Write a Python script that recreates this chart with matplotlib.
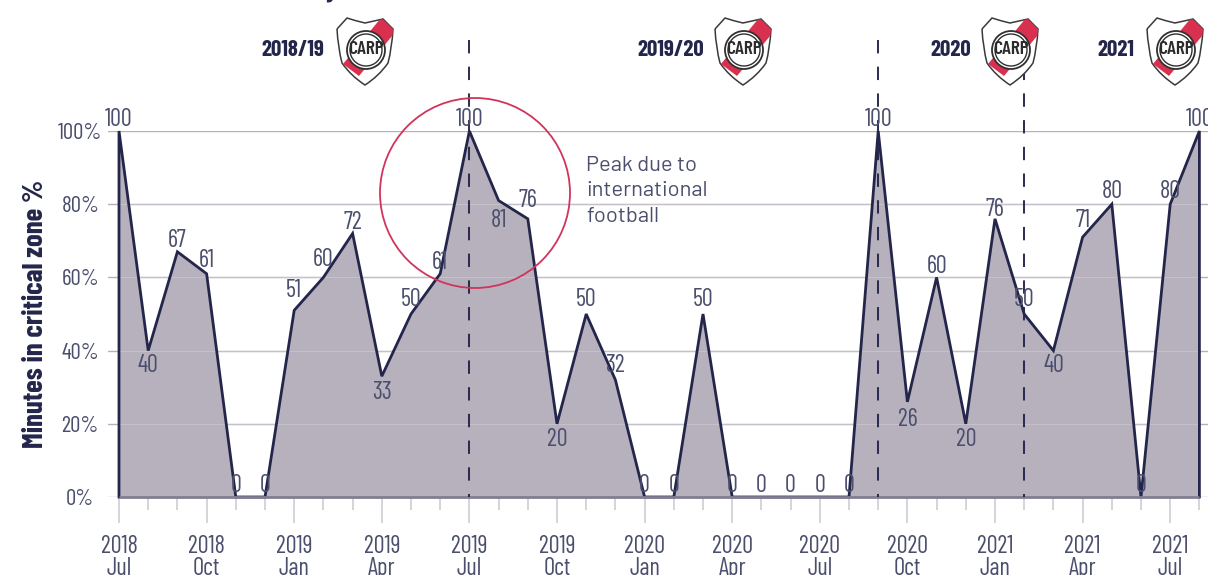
import numpy as np
import matplotlib as mpl
mpl.use("Agg")
import matplotlib.pyplot as plt
from matplotlib.patches import Circle, PathPatch, Polygon
from matplotlib.path import Path

# ---------------------------------------------------------------------------
# DATA
# ---------------------------------------------------------------------------
minutes_pct = [100, 40, 67, 61, 0, 0, 51, 60, 72, 33, 50, 61,
               100, 81, 76, 20, 50, 32, 0, 0, 50, 0, 0, 0,
               0, 0, 100, 26, 60, 20, 76, 50, 40, 71, 80, 0,
               80, 100]
quarter_ticks = [0, 3, 6, 9, 12, 15, 18, 21, 24, 27, 30, 33, 36]
quarter_labels = ["2018\nJul", "2018\nOct", "2019\nJan", "2019\nApr", "2019\nJul",
                  "2019\nOct", "2020\nJan", "2020\nApr", "2020\nJul", "2020\nOct",
                  "2021\nJan", "2021\nApr", "2021\nJul"]
pct_ticks = [0, 20, 40, 60, 80, 100]
season_starts = [12, 26, 31]
season_names = ["2018/19", "2019/20", "2020", "2021"]

# ---------------------------------------------------------------------------
# STYLE
# ---------------------------------------------------------------------------
NAVY = "#23264a"
INK = "#4b4f6d"
AREA = "#b6b1bc"
GRID = "#b3b0c1"
TICK = "#cbc8d0"
RED = "#d0345a"
NARROW = ["Barlow Condensed", "Fira Sans Extra Condensed", "Roboto"]

plt.rcParams["font.family"] = NARROW

W, H = 1208, 575
X0, DX = 119.0, 29.2      # pixel of the first month, pixels per month
Y100, Y0 = 131.0, 497.0   # pixels of the 100% and 0% gridlines
AX_L, AX_R = 108.0, 1208.0

fig = plt.figure(figsize=(W / 100, H / 100), dpi=100)
ax = fig.add_axes([AX_L / W, 1 - Y0 / H, (AX_R - AX_L) / W, (Y0 - Y100) / H])
ax.set_xlim((AX_L - X0) / DX, (AX_R - X0) / DX)
ax.set_ylim(0, 100)
ax.patch.set_visible(False)
for side in ax.spines.values():
    side.set_visible(False)

months = np.arange(len(minutes_pct))
vals = np.array(minutes_pct)

# gridlines sit under the area, then a faint copy shows through on top of it
ax.set_axisbelow(True)
ax.yaxis.grid(True, color=GRID, lw=1.0)
ax.fill_between(months, 0, vals, color=AREA, lw=0, zorder=2)
for p in pct_ticks[1:-1]:
    ax.plot([months[0], months[-1]], [p, p], color="#c4c1cb", lw=0.8, zorder=3)

# outline with the closing verticals at both ends
outline_x = np.r_[months[0], months, months[-1]]
outline_y = np.r_[0, vals, 0]
ax.plot(outline_x, outline_y, color=NAVY, lw=2.0, solid_joinstyle="miter",
        clip_on=False, zorder=4)
ax.plot([months[0], months[-1]], [0, 0], color="#827d90", lw=2.0, zorder=5,
        solid_capstyle="butt", clip_on=False)

# season changes, dashed up past the plot area
for m in season_starts:
    ax.plot([m, m], [125, 0], color=NAVY, lw=1.45, dashes=(6.63, 6.63), clip_on=False,
            dash_capstyle="butt", zorder=6, alpha=0.95)

# ---------------------------------------------------------------------------
# AXES
# ---------------------------------------------------------------------------
ax.set_xticks(quarter_ticks)
ax.set_xticklabels(quarter_labels, fontsize=17.5, color=INK, linespacing=0.93)
ax.set_xticks(months, minor=True)
ax.tick_params(axis="x", which="major", length=18.7, width=1.1, color=TICK, pad=8.5)
ax.tick_params(axis="x", which="minor", length=9.4, width=1.1, color=TICK)
ax.set_yticks(pct_ticks)
ax.set_yticklabels([f"{p}%" for p in pct_ticks], fontsize=16.5, color=INK, ha="center")
ax.tick_params(axis="y", length=0, pad=20)

# ---------------------------------------------------------------------------
# VALUE LABELS
# ---------------------------------------------------------------------------
# pixels above the point, negative is below
LIFT = {1: -12, 3: 16, 6: 22, 7: 20, 8: 13, 9: -14, 10: 17, 13: -17, 14: 21,
        15: -13, 16: 17, 17: 17, 20: 17, 27: -15, 28: 13, 29: -13, 30: 12,
        31: 17, 32: -12, 33: 19, 34: 15, 36: 15}
for m, v in zip(months, vals):
    ax.annotate(str(v), xy=(m, v), xytext=(0, LIFT.get(int(m), 14) * 0.72),
                textcoords="offset points", ha="center", va="center_baseline",
                fontsize=17.5, color=INK, annotation_clip=False, zorder=7)

# ---------------------------------------------------------------------------
# OVERLAY IN PIXELS: ring, note, crests
# ---------------------------------------------------------------------------
top = fig.add_axes([0, 0, 1, 1], zorder=10)
top.set_xlim(0, W)
top.set_ylim(H, 0)
top.axis("off")

top.add_patch(Circle((475, 193), 95, fill=False, ec=RED, lw=1.3))
top.text(586, 191, "Peak due to\ninternational\nfootball", family=["Barlow", "Lato"],
         fontsize=15.8, color=INK, va="center", ha="left", linespacing=1.44)


def draw_crest(x, y=18.0):
    """Shield badge, x and y are the top-left of its box."""
    verts = [(0, 11), (10, 0), (19, 3), (28, 5), (37, 3), (46, 1), (56, 11),
             (55, 30), (51, 45), (42, 58), (28, 67), (14, 58), (5, 45), (1, 30), (0, 11)]
    codes = [Path.MOVETO, Path.LINETO, Path.CURVE3, Path.CURVE3, Path.CURVE3, Path.CURVE3,
             Path.LINETO, Path.CURVE3, Path.CURVE3, Path.CURVE3, Path.CURVE3, Path.CURVE3,
             Path.CURVE3, Path.CURVE3, Path.CURVE3]
    shield = Path([(x + a, y + b) for a, b in verts], codes)
    top.add_patch(PathPatch(shield, fc="white", ec="#3a3a3a", lw=1.1, zorder=11))
    band = Polygon([(x + 44, y), (x + 60, y + 12), (x + 22, y + 58), (x + 6, y + 46)],
                   fc="#d8304e", ec="none", zorder=12)
    top.add_patch(band)
    band.set_clip_path(PathPatch(shield, transform=top.transData))
    cx, cy = x + 29, y + 32
    top.add_patch(Circle((cx, cy), 19, fc="white", ec="#303030", lw=1.3, zorder=13))
    top.add_patch(Circle((cx, cy), 16, fc="white", ec="#303030", lw=1.0, zorder=13))
    top.text(cx, cy, "CARP", fontsize=14, fontweight="semibold", color="#2b2b2b",
             ha="center", va="center", zorder=14)


for name, right, crest_x in zip(season_names, [324, 704, 971, 1134],
                                [337, 715, 982, 1147]):
    top.text(right, 50, name, fontsize=16.5, fontweight="bold", color=NAVY,
             ha="right", va="center")
    draw_crest(crest_x)

# axis title
top.text(36, 314, "Minutes in critical zone %", rotation=90, fontsize=20.8,
         fontweight="bold", color=NAVY, ha="center", va="center")

# foot of the page heading, which runs off the top edge
for glyph, gx in zip(["y", "(", ")"], [332, 437, 568]):
    top.text(gx, -3, glyph, fontsize=20, fontweight="bold", color=NAVY,
             ha="center", va="baseline")

fig.savefig("out.png", dpi=100)
